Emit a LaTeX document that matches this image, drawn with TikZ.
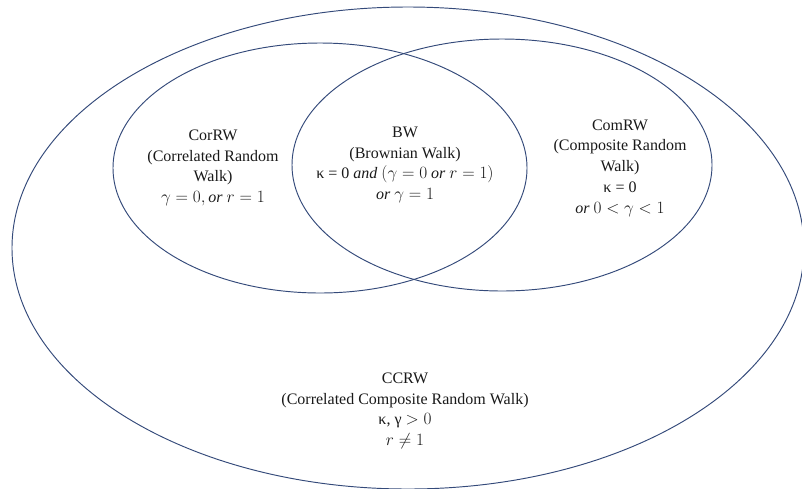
\documentclass[tikz,border=0pt]{standalone}
\usepackage{fontspec}
\setmainfont{Liberation Serif}
\usepackage{tikz}
\definecolor{vennline}{RGB}{52,74,122}

\begin{document}
\begin{tikzpicture}[x=1pt, y=-1pt,
    venn/.style={draw=vennline, line width=0.95pt},
    lbl/.style={align=center, font=\fontsize{16}{20.7}\selectfont, text=black!90}]
\useasboundingbox (0,0) rectangle (802,488);
\draw[venn] (408,248) ellipse [x radius=396pt, y radius=241pt];
\draw[venn] (320,168) ellipse [x radius=207pt, y radius=125pt];
\draw[venn] (502,165) ellipse [x radius=210pt, y radius=126pt];
\node[lbl] (corrw) at (213,168) {CorRW\\(Correlated Random\\Walk)\\$\gamma = 0, \mathit{or}\ r = 1$};
\node[lbl] (bw) at (405,165) {BW\\(Brownian Walk)\\κ = 0 $\mathit{and}\ (\gamma = 0\ \mathit{or}\ r = 1)$\\$\mathit{or}\ \gamma = 1$};
\node[lbl] (comrw) at (620,168) {ComRW\\(Composite Random\\Walk)\\κ = 0\\$\mathit{or}\ 0 < \gamma < 1$};
\node[lbl] (ccrw) at (405,411) {CCRW\\(Correlated Composite Random Walk)\\κ, γ $> 0$\\$r \neq 1$};
\end{tikzpicture}
\end{document}
